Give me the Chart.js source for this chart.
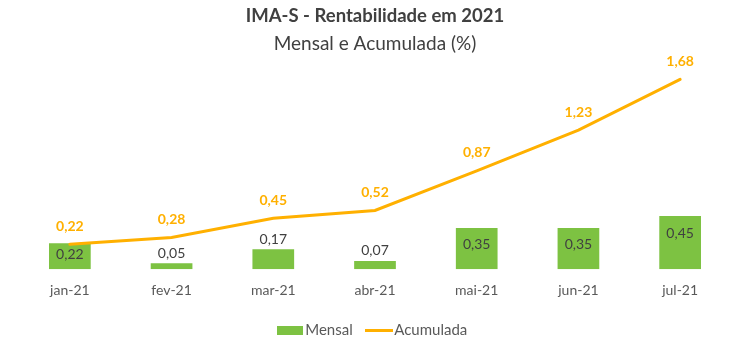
<!DOCTYPE html>
<html><head><meta charset="utf-8">
<script src="https://cdn.jsdelivr.net/npm/chart.js@4"></script>
<style>html,body{margin:0;padding:0;background:#fff}#wrap{width:750px;height:355px}</style>
</head><body><div id="wrap"><canvas id="c"></canvas></div>
<script>
const categories = ['jan-21','fev-21','mar-21','abr-21','mai-21','jun-21','jul-21'];
const mensal = [0.22, 0.05, 0.17, 0.07, 0.35, 0.35, 0.45];
const acumulada = [0.22, 0.28, 0.45, 0.52, 0.87, 1.23, 1.68];

const GREEN = '#7DC242';
const ORANGE = '#FFB000';
const fmt = v => v.toFixed(2).replace('.', ',');
const FONT = 'Lato, "Open Sans", sans-serif';

function swatch(w, h, color, lineH) {
  const cv = document.createElement('canvas');
  cv.width = w; cv.height = h;
  const ctx = cv.getContext('2d');
  ctx.fillStyle = color;
  if (lineH) ctx.fillRect(0, (h - lineH) / 2, w, lineH);
  else ctx.fillRect(0, 0, w, h);
  return cv;
}
const barSw = swatch(26, 9, GREEN);
const lineSw = swatch(28, 9, ORANGE, 3);

const labelsPlugin = {
  id: 'valueLabels',
  afterDatasetsDraw(chart) {
    const ctx = chart.ctx;
    ctx.save();
    ctx.textAlign = 'center';
    ctx.textBaseline = 'middle';
    const mb = chart.getDatasetMeta(0);
    ctx.font = '14px ' + FONT;
    ctx.fillStyle = '#404040';
    mb.data.forEach((el, i) => {
      const h = el.base - el.y;
      let y;
      if (h >= 25) y = el.y + Math.min(17, h / 2 - 2);
      else y = el.y - 10;
      ctx.fillText(fmt(mensal[i]), el.x, y);
    });
    const ml = chart.getDatasetMeta(1);
    ctx.font = 'bold 14px ' + FONT;
    ctx.fillStyle = ORANGE;
    ml.data.forEach((el, i) => {
      ctx.fillText(fmt(acumulada[i]), el.x, el.y - 18);
    });
    ctx.restore();
  }
};

new Chart(document.getElementById('c'), {
  data: {
    labels: categories,
    datasets: [
      { type: 'bar', label: 'Mensal', data: mensal, backgroundColor: GREEN, yAxisID: 'y', order: 2,
        barPercentage: 0.82, categoryPercentage: 0.5 },
      { type: 'line', label: 'Acumulada', data: acumulada, borderColor: ORANGE, backgroundColor: ORANGE,
        borderWidth: 3, pointRadius: 0, tension: 0, yAxisID: 'y1', order: 1, borderCapStyle: 'round' }
    ]
  },
  options: {
    responsive: true, maintainAspectRatio: false, animation: false,
    layout: { padding: { left: 19, right: 19, top: 0, bottom: 7 } },
    plugins: {
      title: { display: true, text: 'IMA-S - Rentabilidade em 2021', color: '#404040',
        font: { family: FONT, size: 18.5, weight: 'bold' }, padding: { top: 5, bottom: 5 } },
      subtitle: { display: true, text: 'Mensal e Acumulada (%)', color: '#404040',
        font: { family: FONT, size: 19 }, padding: { bottom: 10 } },
      legend: { position: 'bottom',
        labels: { usePointStyle: true, color: '#595959', font: { family: FONT, size: 15 }, padding: 19,
          generateLabels: () => [
            { text: 'Mensal', pointStyle: barSw, fontColor: '#595959', datasetIndex: 0, hidden: false, lineWidth: 0 },
            { text: 'Acumulada', pointStyle: lineSw, fontColor: '#595959', datasetIndex: 1, hidden: false, lineWidth: 0 }
          ] } },
      tooltip: { enabled: false }
    },
    scales: {
      x: { grid: { display: false }, border: { display: false },
        ticks: { color: '#595959', font: { family: FONT, size: 14 }, padding: 5 } },
      y: { display: false, min: 0, max: 1.73 },
      y1: { display: false, min: 0, max: 1.807 }
    }
  },
  plugins: [labelsPlugin]
});
</script>
</body></html>
